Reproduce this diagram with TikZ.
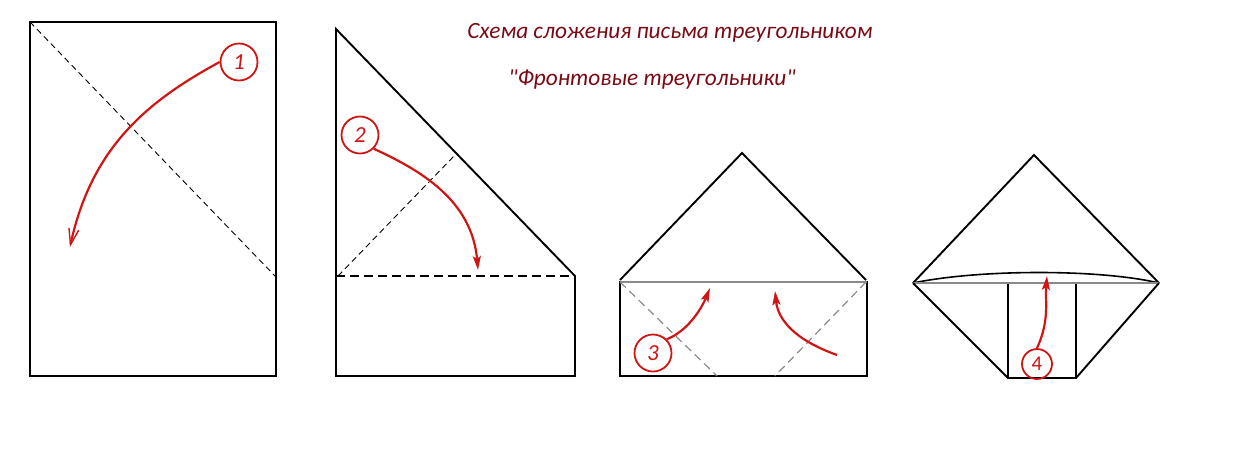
\documentclass[tikz,border=0pt]{standalone}
\usepackage{fontspec}
\setmainfont{Carlito}
\newfontfamily\plainfont{Carlito}
\usetikzlibrary{arrows.meta}
\definecolor{titlered}{HTML}{7A0A14}
\definecolor{arrred}{HTML}{D01515}
\definecolor{foldgray}{HTML}{8A8A8A}
\tikzset{
  paper/.style={draw=black, line width=1.9pt},
  thinpaper/.style={draw=black, line width=1.3pt},
  fold/.style={draw=black, line width=0.9pt, dash pattern=on 6pt off 4pt},
  boldfold/.style={draw=black, line width=2pt, dash pattern=on 9pt off 5pt},
  grayfold/.style={draw=foldgray, line width=1.2pt, dash pattern=on 8pt off 5pt},
  numcirc/.style={circle, draw=arrred, line width=1.8pt, minimum size=37pt, inner sep=0pt,
    text=arrred, font=\plainfont\fontsize{23pt}{23pt}\selectfont\itshape},
  foldarrow/.style={draw=arrred, line width=2.2pt, -{Straight Barb[length=16pt,width=10pt,line width=1.4pt]}},
  solidarrow/.style={draw=arrred, line width=2.2pt, -{Stealth[length=14pt,width=8pt,inset=3pt]}},
  titletext/.style={text=titlered, font=\plainfont\fontsize{23.3pt}{23.3pt}\selectfont\itshape}
}
\begin{document}
\begin{tikzpicture}[x=1pt,y=-1pt]
\useasboundingbox (0,0) rectangle (1237,448);
% title
\node[titletext] (t1) at (670,33) {Схема сложения письма треугольником};
\node[titletext] (t2) at (652,80) {"Фронтовые треугольники"};
% figure 1
\draw[paper] (30,22) rectangle (276,376);
\draw[fold] (30,22) -- (276,277);
\node[numcirc] (c1) at (239,62) {1};
\coordinate (e1) at (70,247);
\draw[foldarrow] (c1.west) .. controls (150,100) and (92,145) .. (e1);
% figure 2
\draw[paper] (336,276) -- (336,29) -- (575,276) -- (575,376) -- (336,376) -- cycle;
\draw[boldfold] (336,276) -- (575,276);
\draw[fold] (338,276) -- (455,155);
\node[numcirc] (c2) at (360,135) {2};
\coordinate (e2) at (478,270);
\draw[solidarrow] (c2.south east) .. controls (420,170) and (472,200) .. (e2);
% figure 3
\draw[paper] (620,280) -- (742,153) -- (866,280);
\draw[paper] (620,282) rectangle (867,376);
\draw[draw=foldgray, line width=2.4pt] (620,282) -- (867,282);
\draw[grayfold] (620,282) -- (717,376);
\draw[grayfold] (866,282) -- (775,376);
\node[numcirc] (c3) at (653,353) {3};
\coordinate (e3) at (710,288);
\coordinate (s3b) at (837,355);
\coordinate (e3b) at (775,291);
\draw[solidarrow] (c3.north east) .. controls (690,330) and (703,305) .. (e3);
\draw[solidarrow] (s3b) .. controls (795,340) and (778,320) .. (e3b);
% figure 4
\draw[paper] (913,283) -- (1034,155) -- (1159,283);
\draw[draw=black, line width=1.6pt] (913,283) .. controls (980,269) and (1100,269) .. (1159,283);
\draw[draw=foldgray, line width=2.4pt] (913,283) -- (1159,283);
\draw[paper] (913,283) -- (1008,378) -- (1076,378) -- (1159,283);
\draw[thinpaper] (1008,284) -- (1008,378);
\draw[thinpaper] (1076,284) -- (1076,378);
\node[numcirc, minimum size=30pt, font=\plainfont\fontsize{21pt}{21pt}\selectfont] (c4) at (1037,364) {4};
\coordinate (e4) at (1047,276);
\draw[solidarrow] (c4.north) .. controls (1050,320) and (1045,300) .. (e4);
\end{tikzpicture}
\end{document}
